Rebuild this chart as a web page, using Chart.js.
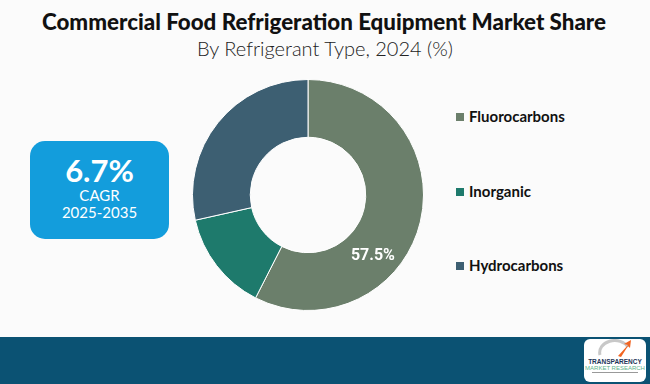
<!DOCTYPE html>
<html>
<head>
<meta charset="utf-8">
<script src="https://cdn.jsdelivr.net/npm/chart.js@4.4.1/dist/chart.umd.min.js"></script>
<style>
  html, body { margin: 0; padding: 0; }
  body { width: 650px; height: 384px; background: #fbfbfb; position: relative; overflow: hidden; font-family: Lato, "Open Sans", sans-serif; }
  .title { position: absolute; left: 42px; top: 7px; white-space: nowrap; font-family: Lato, "Open Sans", sans-serif; font-weight: 900; font-size: 23px; color: #111; transform-origin: 0 0; }
  .subtitle { position: absolute; left: 0; width: 650px; top: 36px; text-align: center; font-size: 20px; color: #222; font-weight: 300; }
  .cagr { position: absolute; left: 30px; top: 141px; width: 139px; height: 98px; background: #139ddc; border-radius: 15px; color: #fff; text-align: center; }
  .cagr .big { font-weight: bold; font-size: 31px; margin-top: 12px; line-height: 34px; }
  .cagr .small { font-size: 15px; line-height: 17px; }
  #wrap { position: absolute; left: 192px; top: 79px; width: 232px; height: 232px; }
  .legend { position: absolute; left: 456px; top: 0; }
  .legend div { position: absolute; white-space: nowrap; font-weight: bold; font-size: 15px; color: #111; }
  .legend span { display: inline-block; width: 8px; height: 8px; margin-right: 5px; vertical-align: 1px; }
  .footer { position: absolute; left: 0; top: 337px; width: 650px; height: 47px; background: #0b5273; }
  .logo { position: absolute; left: 584px; top: 339px; width: 62px; height: 43px; background: #fff; border-radius: 6px; text-align: center; font-family: "Liberation Sans", sans-serif; }
  .logo .t1 { position: absolute; top: 19px; width: 62px; font-size: 6.5px; font-weight: bold; color: #1d3557; }
  .logo .t2 { position: absolute; top: 26px; width: 62px; font-size: 6px; color: #5fb38a; }
  .logo .t3 { position: absolute; top: 33px; left: 8px; width: 46px; height: 1px; background: #999; }
</style>
</head>
<body>
<div class="title" id="title">Commercial Food Refrigeration Equipment Market Share</div>
<div class="subtitle">By Refrigerant Type, 2024 (%)</div>

<div class="cagr">
  <div class="big">6.7%</div>
  <div class="small">CAGR</div>
  <div class="small">2025-2035</div>
</div>

<div id="wrap"><canvas id="donut" width="232" height="232"></canvas></div>
<div class="legend" id="legend"></div>

<div class="footer"></div>
<div class="logo">
  <svg width="62" height="20" style="position:absolute;left:0;top:0">
    <path d="M16 16 A 15 12 0 0 1 44 8" stroke="#c8c8c8" stroke-width="3" fill="none"/>
    <path d="M34 17 L44 6 L40 5 L47 1 L46 9 L44 7 L37 18 Z" fill="#f26522"/>
  </svg>
  <div class="t1">TRANSPARENCY</div>
  <div class="t2">MARKET RESEARCH</div>
  <div class="t3"></div>
</div>

<script>
var labels = ["Fluorocarbons", "Inorganic", "Hydrocarbons"];
var shares = [57.5, 14.0, 28.5];
var colors = ["#6b7f6b", "#1e7a6c", "#3d5f72"];
var shownLabels = ["57.5%", null, null];

// squeeze the title into the width it has in the original
var titleEl = document.getElementById("title");
var titleW = titleEl.getBoundingClientRect().width;
titleEl.style.transform = "scaleX(" + Math.min(1, 564 / titleW) + ")";

// legend rows, vertical centre of each square
var legendRows = [117, 192, 266];
var legendEl = document.getElementById("legend");
labels.forEach(function (name, i) {
    var row = document.createElement("div");
    row.style.top = (legendRows[i] - 10) + "px";
    row.innerHTML = '<span style="background:' + colors[i] + '"></span>' + name;
    legendEl.appendChild(row);
});

var sliceLabels = {
    id: "sliceLabels",
    afterDatasetsDraw: function (chart) {
        var ctx = chart.ctx;
        var meta = chart.getDatasetMeta(0);
        meta.data.forEach(function (arc, i) {
            if (!shownLabels[i]) return;
            var p = arc.getProps(["x", "y", "startAngle", "endAngle", "innerRadius", "outerRadius"], true);
            var a = p.startAngle + (p.endAngle - p.startAngle) * 0.643;
            var r = p.innerRadius + (p.outerRadius - p.innerRadius) * 0.54;
            ctx.save();
            ctx.fillStyle = "#ffffff";
            ctx.font = "bold 16px Roboto, sans-serif";
            ctx.textAlign = "center";
            ctx.textBaseline = "middle";
            ctx.fillText(shownLabels[i], p.x + Math.cos(a) * r, p.y + Math.sin(a) * r);
            ctx.restore();
        });
    }
};

new Chart(document.getElementById("donut"), {
    type: "doughnut",
    data: {
        labels: labels,
        datasets: [{
            data: shares,
            backgroundColor: colors,
            borderColor: "#ffffff",
            borderWidth: 1
        }]
    },
    options: {
        responsive: false,
        animation: false,
        cutout: "50%",
        layout: { padding: 0 },
        plugins: {
            legend: { display: false },
            tooltip: { enabled: false }
        }
    },
    plugins: [sliceLabels]
});
</script>
</body>
</html>
